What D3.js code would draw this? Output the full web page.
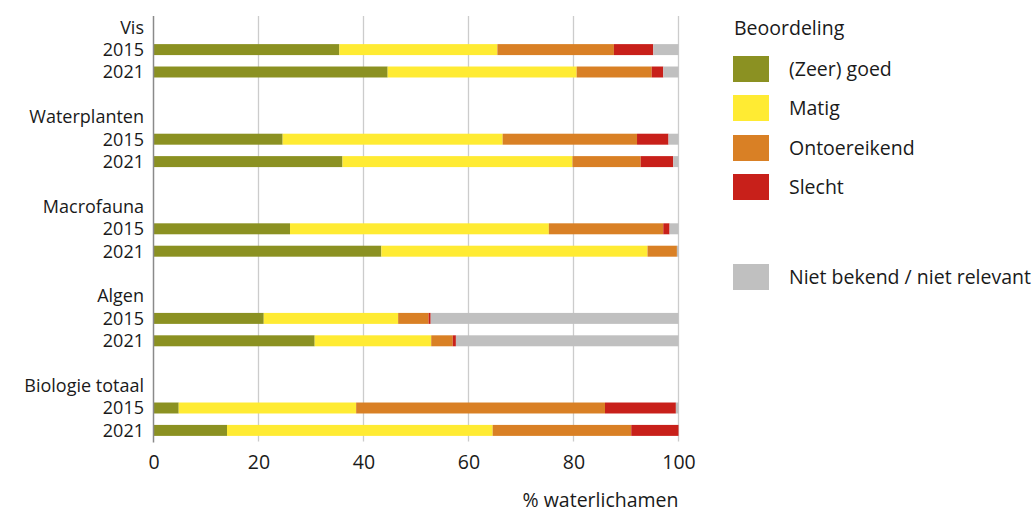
<!DOCTYPE html>
<html><head><meta charset="utf-8">
<script src="https://cdn.jsdelivr.net/npm/d3@7"></script>
<style>
body{margin:0;background:#fff;}
text{font-family:"Open Sans","Noto Sans",sans-serif;fill:#1a1a1a;}
</style></head>
<body><svg id="chart" width="1033" height="512"></svg>
<script>
const groups = ["Vis","Waterplanten","Macrofauna","Algen","Biologie totaal"];
const years = ["2015","2021"];
const categories = ["(Zeer) goed","Matig","Ontoereikend","Slecht","Niet bekend / niet relevant"];
const colors = ["#8b9122","#ffeb33","#d98025","#c8201a","#c0c0c0"];
// values per row (group/year), in % per category
const goed        = [35.4, 44.6, 24.6, 36.0, 26.0, 43.4, 21.0, 30.7, 4.8, 14.0];
const matig       = [30.1, 36.0, 41.9, 43.8, 49.3, 50.7, 25.6, 22.2, 33.8, 50.6];
const ontoereikend= [22.2, 14.3, 25.6, 13.0, 21.8, 5.6, 5.8, 4.1, 47.4, 26.4];
const slecht      = [7.5, 2.2, 6.0, 6.2, 1.2, 0.0, 0.4, 0.6, 13.5, 9.0];
const onbekend    = [4.8, 2.9, 1.9, 1.0, 1.7, 0.3, 47.2, 42.4, 0.5, 0.0];
const xTicks = [0,20,40,60,80,100];
const xTitle = "% waterlichamen";
const legendTitle = "Beoordeling";

const FS = 19.5, FSY = 18;
const svg = d3.select("#chart");
const mLeft = 153.5, mRight = 678.5, mTop = 16, rowH = 22.4;
const nRows = groups.length*4 - 1;
const x = d3.scaleLinear().domain([0,100]).range([mLeft,mRight]);
const yc = d3.scaleBand().domain(d3.range(nRows)).range([mTop, mTop + nRows*rowH]);
const mBottom = mTop + nRows*rowH;

// gridlines
svg.append("g").selectAll("line").data(xTicks.filter(d=>d>0)).join("line")
  .attr("x1",d=>x(d)).attr("x2",d=>x(d)).attr("y1",mTop).attr("y2",mBottom)
  .attr("stroke","#cccccc").attr("stroke-width",1.3);

// rows
const rows = [];
groups.forEach((g,gi)=>{
  rows.push({row:gi*4, label:g, type:"group"});
  years.forEach((yr,yi)=>{
    const idx = gi*2+yi;
    const vals = [goed[idx],matig[idx],ontoereikend[idx],slecht[idx],onbekend[idx]];
    rows.push({row:gi*4+1+yi, label:yr, type:"year", vals});
  });
});

const barRows = rows.filter(r=>r.type==="year");
barRows.forEach(r=>{
  let acc=0;
  r.segs = r.vals.map((v,i)=>{const s={x0:acc,x1:acc+v,c:colors[i]}; acc+=v; return s;});
});
svg.append("g").selectAll("g").data(barRows).join("g")
  .each(function(r){
    d3.select(this).selectAll("rect").data(r.segs.filter(s=>s.x1>s.x0)).join("rect")
      .attr("x",s=>x(s.x0)).attr("width",s=>Math.max(0,x(Math.min(100,s.x1))-x(s.x0)))
      .attr("y",yc(r.row)+rowH*0.255).attr("height",rowH*0.49)
      .attr("fill",s=>s.c);
  });

// labels
svg.append("g").selectAll("text").data(rows).join("text")
  .attr("x",144).attr("y",r=>yc(r.row)+rowH/2).attr("dy","0.35em")
  .attr("text-anchor","end").attr("font-size",FSY).text(r=>r.label);

// y axis line
svg.append("line").attr("x1",mLeft).attr("x2",mLeft).attr("y1",mTop).attr("y2",mBottom+1)
  .attr("stroke","#8a8a8a").attr("stroke-width",1.5);

// x axis
const xAxis = d3.axisBottom(x).tickValues(xTicks).tickSize(0).tickPadding(0);
const ax = svg.append("g").attr("transform",`translate(0,${mBottom})`).call(xAxis);
ax.select(".domain").remove();
ax.selectAll("text").attr("font-size",FS).attr("y",27).attr("dy","0").attr("font-family",null).attr("fill","#1a1a1a")
  .style("font-family",'"Open Sans","Noto Sans",sans-serif');

svg.append("text").attr("x",mRight).attr("y",507).attr("text-anchor","end").attr("font-size",FS).text(xTitle);

// legend
const lg = svg.append("g");
lg.append("text").attr("x",734).attr("y",35).attr("font-size",FS).text(legendTitle);
const legY = [56,95,135,174,264];
const leg = lg.selectAll("g.item").data(categories).join("g").attr("class","item")
  .attr("transform",(d,i)=>`translate(733,${legY[i]})`);
leg.append("rect").attr("width",36).attr("height",26).attr("fill",(d,i)=>colors[i]);
leg.append("text").attr("x",56).attr("y",13).attr("dy","0.35em").attr("font-size",FS).text(d=>d);
</script></body></html>
